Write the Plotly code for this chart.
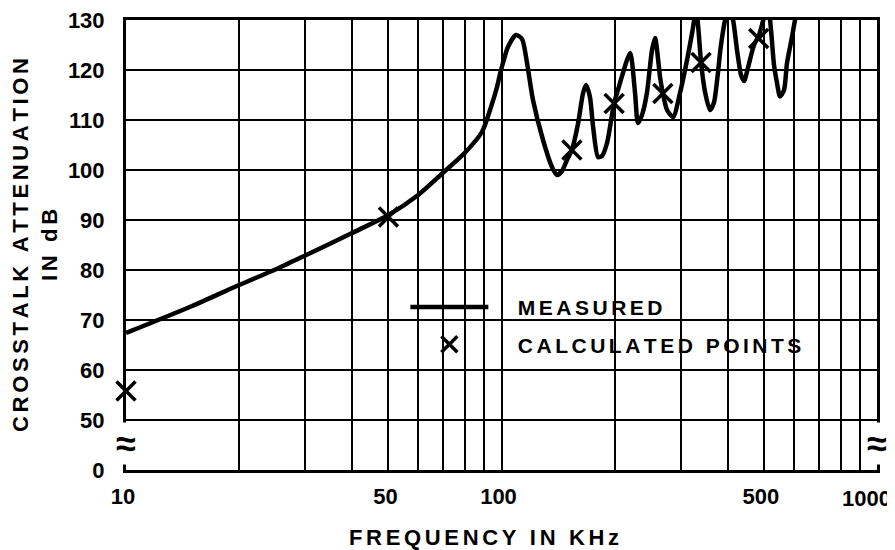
import plotly.graph_objects as go

# ---------------- data ----------------
freq_khz = [10, 15, 20, 25, 30, 40, 50, 60, 70, 80, 88.7, 93.2, 97.3, 99.1, 100.9,
            104, 109.3, 113.4, 116.9, 121.3, 129, 136.3, 140.6, 144.9, 149.4, 154,
            160, 164.9, 168, 172, 175.4, 180.8, 185.2, 191, 199.4, 206.8, 215.9,
            220.3, 226.8, 230.9, 236.7, 243.9, 251.7, 256.4, 264.4, 269, 276, 286.4,
            299, 312, 322, 330, 334.6, 340, 348.6, 359.2, 368, 376, 383.4, 393.8,
            402.5, 413.7, 423.8, 434.4, 442.4, 453.5, 470.4, 485.1, 500.1, 512.6,
            522.1, 531.8, 541.7, 551.8, 565.4, 575.9, 593.8, 604.8, 619.8]
attn_db = [67.4, 72.8, 77, 80.1, 82.9, 87.4, 91, 95, 99.5, 103.5, 107.6, 112, 116.6, 119.2, 121.4,
           124.6, 127, 126.2, 121.5, 114, 106, 100.6, 99, 99.8, 102, 104,
           109.4, 115.4, 117, 114.6, 108.6, 102.6, 102.8, 105.4, 113.3, 117.4, 122,
           123.4, 115.4, 109.4, 111, 115.4, 124, 126.4, 118.6, 115.3, 112, 110.6,
           115.5, 122, 127.5, 132, 128, 121.5, 115.5, 112, 113.5, 118.6, 124.5, 130,
           133, 130, 124, 119, 117.8, 120.5, 125, 127, 130.5, 133,
           128, 121, 117.4, 114.7, 116, 121.4, 126.6, 130, 134]
assert len(freq_khz) == len(attn_db), (len(freq_khz), len(attn_db))

calc_freq_khz = [10, 50, 154, 199.5, 269, 340, 484]
calc_db = [55.8, 90.6, 104, 113.3, 115.3, 121.5, 126.3]

# axis ticks (y axis has a break: bottom tick stands for 0)
x_tick_vals = [10, 50, 100, 500]
x_tick_text = ["10", "50", "100", "500"]
x_end_label = "1000"          # label of the right-hand end of the axis
x_minor_vals = [20, 30, 40, 60, 70, 80, 90, 200, 300, 400, 600, 700, 800, 900]
y_tick_vals = [40, 50, 60, 70, 80, 90, 100, 110, 120, 130]
y_tick_text = ["0", "50", "60", "70", "80", "90", "100", "110", "120", "130"]


def spaced(s, gap="\u2006"):
    return gap.join(s)


FONT = "Liberation Sans, Arial, sans-serif"
LEAD = "\u2002\u2002\u2006"

fig = go.Figure()
fig.add_trace(go.Scatter(
    x=freq_khz, y=attn_db, mode="lines", name=LEAD + spaced("MEASURED"),
    line=dict(color="black", width=4.5, shape="spline", smoothing=0.7),
    legendgroup="m",
))
fig.add_trace(go.Scatter(
    x=calc_freq_khz, y=calc_db, mode="markers", name=LEAD + spaced("CALCULATED POINTS"),
    marker=dict(symbol="x-thin-open", size=19, color="black",
                line=dict(color="black", width=3.5)),
    cliponaxis=False, legendgroup="c",
))

tickfont = dict(family=FONT, size=22, color="black", weight="bold")
axis_common = dict(
    showline=True, linecolor="black", linewidth=3, mirror=True,
    showgrid=True, gridcolor="black", gridwidth=2,
    zeroline=False, ticks="", automargin=False, tickfont=tickfont,
    ticklabeloverflow="allow",
)

fig.update_xaxes(
    type="log", range=[1, 3],
    tickmode="array", tickvals=x_tick_vals, ticktext=x_tick_text,
    ticklabelshift=-3,
    minor=dict(tickvals=x_minor_vals, showgrid=True, gridcolor="black",
               gridwidth=2, ticks=""),
    ticklabelstandoff=5,
    **axis_common,
)
fig.update_yaxes(
    range=[40, 130],
    tickmode="array", tickvals=y_tick_vals, ticktext=y_tick_text,
    ticklabelstandoff=14,
    title=dict(text=spaced("CROSSTALK ATTENUATION") + "<br>" + spaced("IN dB"),
               standoff=5,
               font=dict(family=FONT, size=22, color="black", weight="bold")),
    **axis_common,
)

# end-of-axis label (set slightly inwards, as in the original)
fig.add_annotation(xref="paper", yref="paper", x=1, y=0,
                   xanchor="center", yanchor="top", xshift=-11, yshift=-14,
                   text=x_end_label, showarrow=False, font=tickfont)

# x axis title
fig.add_annotation(xref="paper", yref="paper", x=0.4767, y=0,
                   xanchor="center", yanchor="middle", yshift=-67,
                   text=spaced("FREQUENCY IN KHz"), showarrow=False,
                   font=dict(family=FONT, size=22, color="black", weight="bold"))

# white area behind the key, hiding the grid
fig.add_shape(type="rect", xref="paper", yref="paper",
              x0=0.358, x1=0.975, y0=0.158, y1=0.42,
              fillcolor="white", line=dict(width=0), layer="between")

# axis-break marks
for xp in (0, 1):
    fig.add_annotation(xref="paper", yref="paper", x=xp, y=0.06,
                       xanchor="center", yanchor="middle",
                       text="<b>≈</b>", showarrow=False,
                       font=dict(family=FONT, size=36, color="black"),
                       bgcolor="white", borderpad=0)

# page body adds an 8 px margin, so the figure is 8 px smaller and shifted
fig.update_layout(
    width=887, height=542,
    margin=dict(l=118, r=18, t=12, b=80),
    paper_bgcolor="white", plot_bgcolor="white",
    showlegend=True,
    legend=dict(x=0.372, y=0.407, xanchor="left", yanchor="top",
                bgcolor="rgba(0,0,0,0)", itemwidth=78, tracegroupgap=7,
                font=dict(family=FONT, size=21, color="black", weight="bold")),
)

fig.write_html("out.html")
